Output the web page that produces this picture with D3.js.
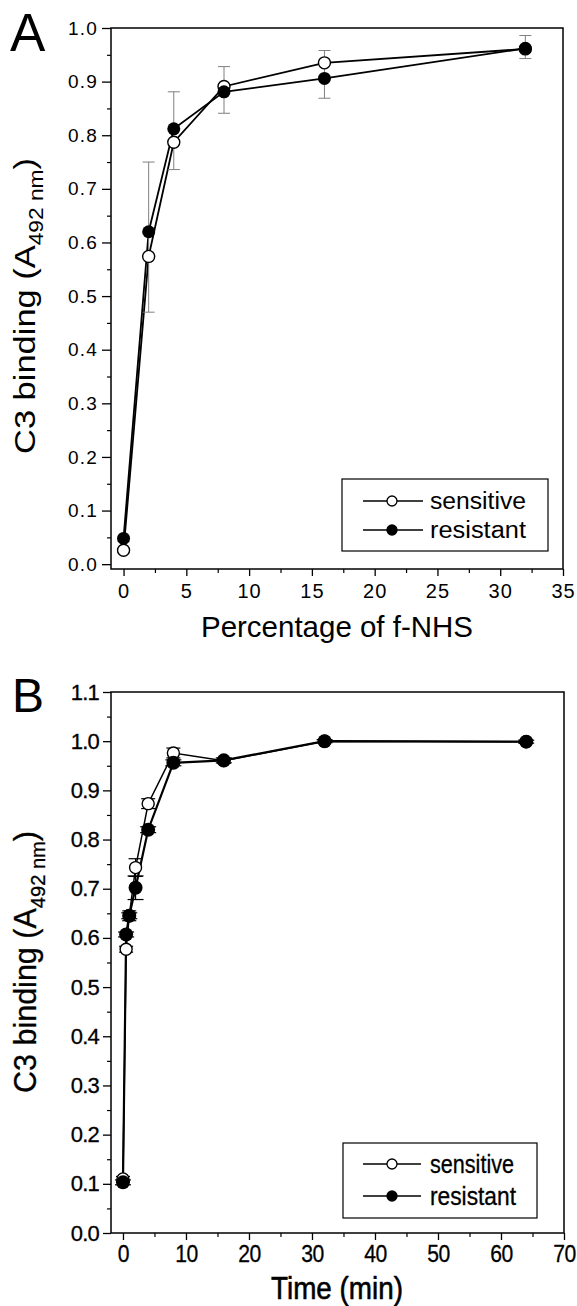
<!DOCTYPE html>
<html><head><meta charset="utf-8">
<script src="https://cdn.jsdelivr.net/npm/d3@7"></script>
<style>body{margin:0;background:#fff}svg text{font-family:"Liberation Sans",Arial,sans-serif;fill:#000}</style>
</head><body><svg id="c" width="577" height="1306"></svg>
<script>
// ---------- Panel A data ----------
const fNHS = [0, 2, 4, 8, 16, 32];
const sensitiveA = [0.026, 0.574, 0.787, 0.891, 0.935, 0.961];
const resistantA = [0.048, 0.620, 0.812, 0.881, 0.906, 0.962];
const errLowA = [0.021, 0.470, 0.736, 0.841, 0.869, 0.943];
const errHighA = [0.042, 0.750, 0.881, 0.928, 0.958, 0.986];
const xTicksA = [0, 5, 10, 15, 20, 25, 30, 35];
const xMinorA = [2.5, 7.5, 12.5, 17.5, 22.5, 27.5, 32.5];
const yTicksA = [0.0, 0.1, 0.2, 0.3, 0.4, 0.5, 0.6, 0.7, 0.8, 0.9, 1.0];
const yMinorA = [0.05, 0.15, 0.25, 0.35, 0.45, 0.55, 0.65, 0.75, 0.85, 0.95];

// ---------- Panel B data ----------
const timeMin = [0, 0.5, 1, 2, 4, 8, 16, 32, 64];
const sensitiveB = [0.110, 0.577, 0.645, 0.743, 0.873, 0.976, 0.960, 1.000, 0.999];
const resistantB = [0.103, 0.607, 0.645, 0.702, 0.820, 0.956, 0.961, 1.000, 0.999];
const sensErrB = [0.005, 0.006, 0.010, 0.018, 0.010, 0.010, 0.005, 0.003, 0.003];
const resErrB = [0.005, 0.005, 0.006, 0.024, 0.006, 0.006, 0.005, 0.003, 0.003];
const xTicksB = [0, 10, 20, 30, 40, 50, 60, 70];
const xMinorB = [5, 15, 25, 35, 45, 55, 65];
const yTicksB = [0.0, 0.1, 0.2, 0.3, 0.4, 0.5, 0.6, 0.7, 0.8, 0.9, 1.0, 1.1];
const yMinorB = [0.05, 0.15, 0.25, 0.35, 0.45, 0.55, 0.65, 0.75, 0.85, 0.95, 1.05];

const seriesNames = ["sensitive", "resistant"];

const svg = d3.select("#c");

function panel(o) {
  const x = d3.scaleLinear().domain(o.xDomain).range([o.left, o.right]);
  const y = d3.scaleLinear().domain(o.yDomain).range([o.bottom, o.top]);
  const g = svg.append("g");

  // axes
  const xa = g.append("g").attr("transform", `translate(0,${o.bottom})`)
    .call(d3.axisBottom(x).tickValues(o.xTicks).tickSize(o.xTick).tickSizeOuter(0).tickPadding(o.xPad).tickFormat(d3.format("d")));
  xa.select(".domain").remove();
  xa.selectAll("line").attr("stroke", "#000").attr("stroke-width", 1.3);
  xa.selectAll("text").style("font-size", o.xFont + "px").style("letter-spacing", o.xLS + "px")
    .style("stroke", "#000").style("stroke-width", o.txtStroke)
    .attr("transform", `scale(${o.xCond},1)`);
  const xm = g.append("g").attr("transform", `translate(0,${o.bottom})`)
    .call(d3.axisBottom(x).tickValues(o.xMinor).tickSize(4).tickSizeOuter(0).tickFormat(""));
  xm.select(".domain").remove();
  xm.selectAll("line").attr("stroke", "#000").attr("stroke-width", 1.2);

  const ya = g.append("g").attr("transform", `translate(${o.left},0)`)
    .call(d3.axisLeft(y).tickValues(o.yTicks).tickSize(o.yTick).tickSizeOuter(0).tickPadding(o.yPad).tickFormat(d3.format(".1f")));
  ya.select(".domain").remove();
  ya.selectAll("line").attr("stroke", "#000").attr("stroke-width", 1.3);
  ya.selectAll("text").style("font-size", o.yFont + "px").style("letter-spacing", o.yLS + "px")
    .style("stroke", "#000").style("stroke-width", o.txtStroke);
  const ym = g.append("g").attr("transform", `translate(${o.left},0)`)
    .call(d3.axisLeft(y).tickValues(o.yMinor).tickSize(4).tickSizeOuter(0).tickFormat(""));
  ym.select(".domain").remove();
  ym.selectAll("line").attr("stroke", "#000").attr("stroke-width", 1.2);

  // frame
  g.append("rect").attr("x", o.left).attr("y", o.top)
    .attr("width", o.right - o.left).attr("height", o.bottom - o.top)
    .attr("fill", "none").attr("stroke", "#000").attr("stroke-width", 1.5);

  // lines
  const line = d3.line().x(d => x(d[0])).y(d => y(d[1]));
  g.append("path").datum(o.xs.map((v, i) => [v, o.s[i]])).attr("d", line)
    .attr("fill", "none").attr("stroke", "#000").attr("stroke-width", o.lwS);
  g.append("path").datum(o.xs.map((v, i) => [v, o.r[i]])).attr("d", line)
    .attr("fill", "none").attr("stroke", "#000").attr("stroke-width", o.lwR);

  // error bars
  o.errs.forEach(e => {
    const eg = g.append("g");
    o.xs.forEach((v, i) => {
      const lo = e.lo[i], hi = e.hi[i];
      eg.append("line").attr("x1", x(v)).attr("x2", x(v)).attr("y1", y(lo)).attr("y2", y(hi))
        .attr("stroke", e.color).attr("stroke-width", e.w);
      [lo, hi].forEach(b => eg.append("line").attr("x1", x(v) - e.cap).attr("x2", x(v) + e.cap)
        .attr("y1", y(b)).attr("y2", y(b)).attr("stroke", e.color).attr("stroke-width", e.w));
    });
  });

  // markers
  g.selectAll(null).data(o.xs.map((v, i) => [v, o.s[i]])).join("circle")
    .attr("cx", d => x(d[0])).attr("cy", d => y(d[1])).attr("r", o.rS)
    .attr("fill", "#fff").attr("stroke", "#000").attr("stroke-width", 1.4);
  g.selectAll(null).data(o.xs.map((v, i) => [v, o.r[i]])).join("circle")
    .attr("cx", d => x(d[0])).attr("cy", d => y(d[1])).attr("r", o.rR)
    .attr("fill", "#000");

  // legend
  const L = o.legend;
  g.append("rect").attr("x", L.x0).attr("y", L.y0).attr("width", L.x1 - L.x0).attr("height", L.y1 - L.y0)
    .attr("fill", "#fff").attr("stroke", "#000").attr("stroke-width", 1.2);
  seriesNames.forEach((nm, i) => {
    const yy = L.rows[i];
    g.append("line").attr("x1", L.lx0).attr("x2", L.lx1).attr("y1", yy).attr("y2", yy)
      .attr("stroke", "#000").attr("stroke-width", 1.3);
    g.append("circle").attr("cx", L.mx).attr("cy", yy).attr("r", L.mr)
      .attr("fill", i === 0 ? "#fff" : "#000").attr("stroke", "#000").attr("stroke-width", 1.3);
    g.append("text").attr("x", L.tx).attr("y", yy + L.font * 0.36).text(nm)
      .style("font-size", L.font + "px").style("stroke", "#000").style("stroke-width", o.txtStroke)
      .attr("textLength", L.tl[i]).attr("lengthAdjust", "spacingAndGlyphs");
  });

  // axis titles
  g.append("text").attr("x", o.xt.x).attr("y", o.xt.y).attr("text-anchor", "middle")
    .style("font-size", o.xt.font + "px").style("stroke", "#000").style("stroke-width", o.xt.stroke)
    .attr("textLength", o.xt.len).attr("lengthAdjust", "spacingAndGlyphs")
    .text(o.xt.text);
  const yt = g.append("text").attr("transform", `translate(${o.yt.x},${o.yt.y}) rotate(-90)`)
    .attr("text-anchor", "middle").style("font-size", o.yt.font + "px")
    .style("stroke", "#000").style("stroke-width", o.yt.stroke)
    .attr("textLength", o.yt.len).attr("lengthAdjust", "spacingAndGlyphs");
  yt.append("tspan").text("C3 binding (A");
  yt.append("tspan").attr("dy", o.yt.font * 0.28).style("font-size", (o.yt.font * 0.66) + "px").text("492 nm");
  yt.append("tspan").attr("dy", -o.yt.font * 0.28).text(")");

  // panel letter
  g.append("text").attr("x", o.letter.x).attr("y", o.letter.y).style("font-size", o.letter.font + "px")
    .text(o.letter.text);
}

panel({
  xDomain: [-1, 35], yDomain: [-0.009, 1.0],
  left: 111, right: 563, top: 28, bottom: 569,
  xTicks: xTicksA, xMinor: xMinorA, yTicks: yTicksA, yMinor: yMinorA,
  xTick: 7, xPad: 8, xFont: 20, xLS: 1, xCond: 1,
  yTick: 9, yPad: 4, yFont: 19, yLS: 1.2, txtStroke: 0,
  xs: fNHS, s: sensitiveA, r: resistantA, lwS: 1.8, lwR: 1.8, rS: 6, rR: 6.5,
  errs: [{lo: errLowA, hi: errHighA, color: "#808080", w: 1, cap: 6}],
  legend: {x0: 342, x1: 548, y0: 479, y1: 551, rows: [501, 530], lx0: 363, lx1: 423, mx: 392, mr: 5,
           tx: 430, font: 23, tl: [96, 96]},
  xt: {x: 337, y: 637, font: 29, len: 272, stroke: 0, text: "Percentage of f-NHS"},
  yt: {x: 35, y: 306, font: 30, len: 296, stroke: 0},
  letter: {x: 10, y: 51, font: 53, text: "A"}
});

panel({
  xDomain: [-1.9, 70], yDomain: [0, 1.1],
  left: 111, right: 564, top: 692, bottom: 1233,
  xTicks: xTicksB, xMinor: xMinorB, yTicks: yTicksB, yMinor: yMinorB,
  xTick: 7, xPad: 5, xFont: 24, xLS: -0.6, xCond: 0.88,
  yTick: 8, yPad: 4, yFont: 22, yLS: -0.8, txtStroke: 0.3,
  xs: timeMin, s: sensitiveB, r: resistantB, lwS: 1.5, lwR: 2.2, rS: 6, rR: 7,
  errs: [{lo: sensitiveB.map((v, i) => v - sensErrB[i]), hi: sensitiveB.map((v, i) => v + sensErrB[i]), color: "#000", w: 1.2, cap: 7},
         {lo: resistantB.map((v, i) => v - resErrB[i]), hi: resistantB.map((v, i) => v + resErrB[i]), color: "#000", w: 1.2, cap: 8}],
  legend: {x0: 343, x1: 537, y0: 1143, y1: 1218, rows: [1164, 1196], lx0: 363, lx1: 421, mx: 392, mr: 5,
           tx: 430, font: 25, tl: [84, 86]},
  xt: {x: 337, y: 1299, font: 32, len: 132, stroke: 0.6, text: "Time (min)"},
  yt: {x: 36, y: 962, font: 31, len: 262, stroke: 0.3},
  letter: {x: 12, y: 712, font: 48, text: "B"}
});
</script></body></html>
